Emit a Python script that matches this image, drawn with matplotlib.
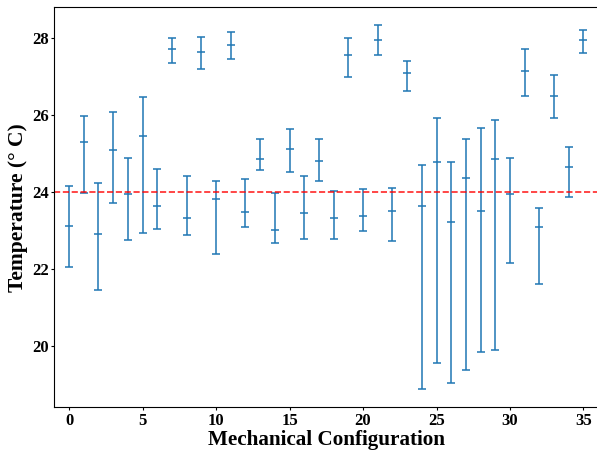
import numpy as np
import matplotlib.pyplot as plt

# Configuration index and temperature statistics (mean, min, max)
configs = np.arange(36)
mean_temp = [23.13, 25.30, 22.91, 25.09, 23.96, 25.47, 23.64, 27.73, 23.32, 27.65,
             23.83, 27.82, 23.49, 24.85, 23.01, 25.13, 23.45, 24.82, 23.32, 27.55,
             23.38, 27.95, 23.52, 27.09, 23.64, 24.78, 23.22, 24.37, 23.51, 24.86,
             23.96, 27.14, 23.10, 26.51, 24.66, 27.95]
min_temp = [22.07, 23.98, 21.46, 23.71, 22.77, 22.93, 23.04, 27.36, 22.88, 27.20,
            22.40, 27.45, 23.09, 24.57, 22.68, 24.52, 22.79, 24.30, 22.78, 26.98,
            23.00, 27.56, 22.73, 26.63, 18.89, 19.57, 19.06, 19.39, 19.85, 19.90,
            22.17, 26.49, 21.63, 25.92, 23.88, 27.61]
max_temp = [24.16, 25.97, 24.24, 26.07, 24.88, 26.46, 24.60, 28.00, 24.42, 28.02,
            24.30, 28.15, 24.34, 25.37, 23.98, 25.65, 24.42, 25.38, 24.04, 27.99,
            24.08, 28.33, 24.10, 27.41, 24.71, 25.92, 24.79, 25.38, 25.67, 25.87,
            24.88, 27.72, 23.58, 27.04, 25.18, 28.22]
setpoint = 24

mean_temp = np.array(mean_temp)
yerr = [mean_temp - np.array(min_temp), np.array(max_temp) - mean_temp]

plt.rcParams['font.family'] = ['Liberation Serif', 'DejaVu Serif']
plt.rcParams['font.weight'] = 'bold'

fig = plt.figure(figsize=(5.97, 4.51), dpi=100)
ax = fig.add_axes([0.091, 0.097, 0.911, 0.887])

ax.errorbar(configs, mean_temp, yerr=yerr, fmt='_', color='tab:blue',
            capsize=3, elinewidth=1.1, markersize=6, markeredgewidth=1.1,
            capthick=1.1)
ax.axhline(setpoint, color='red', linestyle='--', linewidth=1.2, alpha=0.85)

ax.set_xlim(-1, 36)
ax.set_xticks(range(0, 36, 5))
ax.set_yticks([20, 22, 24, 26, 28])
ax.tick_params(labelsize=12, length=2.5, pad=1.5)
for lbl in ax.get_xticklabels() + ax.get_yticklabels():
    lbl.set_fontweight('bold')

ax.set_xlabel("Mechanical Configuration", fontsize=15.2, fontweight='bold', labelpad=1)
ax.set_ylabel("Temperature (° C)", fontsize=15.5, fontweight='bold', labelpad=3)

fig.savefig("out.png", dpi=100)
